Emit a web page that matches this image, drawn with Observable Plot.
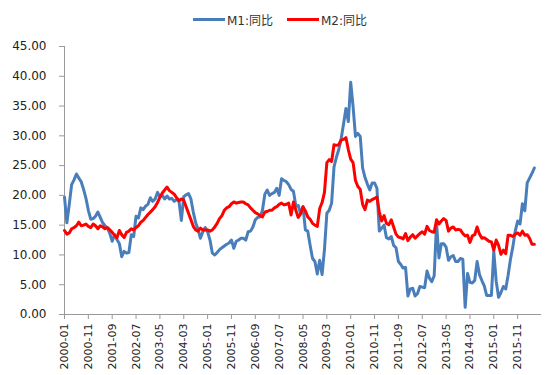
<!DOCTYPE html>
<html>
<head>
<meta charset="utf-8">
<script src="https://cdn.jsdelivr.net/npm/d3@7"></script>
<script src="https://cdn.jsdelivr.net/npm/@observablehq/plot@0.6"></script>
<style>
  html, body { margin: 0; padding: 0; background: #fff; }
  #wrap { width: 554px; height: 375px; overflow: hidden; font-family: "DejaVu Sans", "Noto Sans CJK SC", sans-serif; }
  #legend { height: 35px; display: flex; justify-content: center; align-items: center; gap: 14px; font-size: 12px; color: #333; padding-left: 6px; box-sizing: border-box; padding-top: 4px; }
  .item { display: flex; align-items: center; gap: 2px; }
  .sw { display: inline-block; width: 32px; height: 3px; }
</style>
</head>
<body>
<div id="wrap">
  <div id="legend"></div>
  <div id="chart"></div>
</div>
<script>
const seriesNames = ["M1:同比", "M2:同比"];
const seriesColors = ["#4a7ebb", "#ff0000"];

const startYear = 2000;
const monthCount = 198; // 2000-01 .. 2016-06

const tickLabels = ["2000-01","2000-11","2001-09","2002-07","2003-05","2004-03","2005-01","2005-11","2006-09","2007-07",
  "2008-05","2009-03","2010-01","2010-11","2011-09","2012-07","2013-05","2014-03","2015-01","2015-11"];

const yTicks = [0, 5, 10, 15, 20, 25, 30, 35, 40, 45];

const m1 = [
  19.7, 15.4, 18.5, 21.8, 22.6, 23.6, 22.9, 22.3, 21.0, 19.5, 17.5, 16.0,
  16.1, 16.5, 17.2, 16.3, 15.4, 14.9, 14.5, 13.6, 12.3, 13.4, 12.6, 11.9,
  9.7, 10.6, 10.3, 10.4, 13.4, 13.1, 16.5, 16.2, 17.9, 17.6, 18.2, 18.5,
  19.6, 19.0, 19.4, 20.5, 19.8, 20.0, 19.4, 19.9, 19.4, 19.5, 19.0, 19.3,
  19.0, 15.8, 19.8, 20.1, 20.3, 19.4, 17.2, 15.4, 14.3, 12.8, 13.9, 14.6,
  13.9, 12.5, 10.3, 10.0, 10.4, 10.9, 11.2, 11.5, 11.8, 12.0, 12.5, 11.1,
  12.3, 12.5, 12.8, 12.8, 12.5, 13.9, 14.0, 14.7, 15.9, 16.3, 16.4, 17.5,
  20.2, 20.9, 20.0, 20.3, 20.5, 21.2, 20.0, 22.8, 22.5, 22.3, 21.8, 21.0,
  20.7, 18.2, 18.3, 16.9, 18.1, 14.2, 14.0, 11.6, 9.4, 8.9, 6.8, 9.1,
  6.7, 10.9, 17.0, 17.5, 18.7, 24.8, 26.4, 27.7, 29.5, 32.0, 34.6, 32.4,
  39.0, 34.9, 29.9, 30.4, 29.9, 24.6, 23.0, 21.9, 20.9, 22.1, 22.1, 21.2,
  14.0, 14.5, 15.0, 12.9, 12.7, 13.1, 11.6, 11.2, 8.9, 8.4, 7.8, 7.9,
  3.1, 4.3, 4.4, 3.1, 3.5, 4.7, 4.6, 4.5, 7.3, 6.1, 5.5, 6.5,
  15.3, 9.5, 11.9, 11.9, 11.3, 9.1, 9.7, 9.9, 8.9, 8.9, 9.4, 9.3,
  1.2, 6.9, 5.4, 5.3, 5.7, 8.9, 6.7, 5.7, 4.8, 3.2, 3.2, 3.2,
  10.6, 5.6, 2.9, 3.7, 4.7, 4.3, 6.6, 9.3, 11.4, 14.0, 15.7, 15.2,
  18.6, 17.4, 22.1, 22.9, 23.7, 24.6
];

const m2 = [
  14.1, 13.5, 13.7, 14.4, 14.6, 14.9, 15.5, 14.9, 15.0, 15.2, 14.8, 14.6,
  15.2, 14.9, 14.4, 14.9, 14.7, 14.4, 14.6, 14.2, 13.8, 13.3, 12.9, 14.1,
  13.4, 12.9, 13.8, 14.0, 14.4, 14.2, 14.6, 14.9, 15.5, 15.8, 16.3, 16.8,
  17.2, 17.6, 18.1, 18.8, 19.7, 20.4, 20.9, 21.4, 20.8, 20.5, 20.2, 19.6,
  19.1, 19.4, 19.2, 18.1, 17.0, 15.9, 14.8, 14.2, 14.0, 14.5, 14.2, 14.2,
  14.2, 14.0, 14.2, 14.7, 15.3, 16.1, 16.6, 17.5, 17.9, 18.1, 18.6, 18.9,
  18.7, 18.8, 18.9, 18.9, 18.6, 18.4, 17.9, 17.5, 17.1, 16.9, 16.6, 16.4,
  17.2, 17.3, 17.5, 17.5, 17.9, 18.1, 18.5, 18.7, 18.4, 18.5, 18.7, 16.7,
  18.9, 17.5, 16.3, 16.9, 18.1, 17.4, 16.4, 16.0, 15.3, 15.0, 14.8, 17.8,
  18.8, 20.5, 25.5, 26.0, 25.7, 28.5, 28.4, 28.5, 29.3, 29.4, 29.7, 27.7,
  26.1, 25.5, 22.5, 21.5, 21.0, 18.5, 17.6, 19.2, 19.0, 19.3, 19.5, 19.7,
  17.2, 15.7, 16.6, 15.3, 15.1, 15.9, 14.7, 13.5, 13.0, 12.9, 12.7, 13.6,
  12.4, 13.0, 13.4, 12.8, 13.2, 13.6, 13.9, 13.5, 14.8, 14.1, 13.9, 13.8,
  15.9, 15.2, 15.7, 16.1, 15.8, 14.0, 14.5, 14.7, 14.2, 14.3, 14.2, 13.6,
  13.2, 13.3, 12.1, 13.2, 13.4, 14.7, 13.5, 12.8, 12.9, 12.6, 12.3, 12.2,
  10.8, 12.5, 11.6, 10.1, 10.8, 10.2, 13.3, 13.3, 13.1, 13.5, 13.7, 13.3,
  14.0, 13.3, 13.4, 12.8, 11.8, 11.8
];

// month categories
const months = [];
for (let k = 0; k < monthCount; k++) {
  const y = startYear + Math.floor(k / 12);
  const mo = (k % 12) + 1;
  months.push(y + "-" + String(mo).padStart(2, "0"));
}
const tickIdx = tickLabels.map(l => months.indexOf(l));

const rows1 = months.map((m, i) => ({ i, month: m, v: m1[i] }));
const rows2 = months.map((m, i) => ({ i, month: m, v: m2[i] }));

// legend
const legend = document.getElementById("legend");
seriesNames.forEach((n, k) => {
  const it = document.createElement("span");
  it.className = "item";
  const sw = document.createElement("span");
  sw.className = "sw";
  sw.style.background = seriesColors[k];
  const tx = document.createElement("span");
  tx.textContent = n;
  it.appendChild(sw); it.appendChild(tx);
  legend.appendChild(it);
});

const chart = Plot.plot({
  width: 554,
  height: 340,
  marginTop: 11,
  marginBottom: 61,
  marginLeft: 64,
  marginRight: 13,
  style: { fontFamily: "DejaVu Sans, sans-serif", fontSize: "11px", background: "#fff", color: "#222" },
  x: { type: "linear", domain: [0, 200], axis: null },
  y: { domain: [0, 45], axis: null },
  marks: [
    Plot.axisY({ ticks: yTicks, tickFormat: d => d.toFixed(2), tickSize: 5, tickPadding: 13, stroke: "#999", fill: "#222", fontSize: 12, label: null }),
    Plot.axisX({ ticks: tickIdx, tickFormat: i => months[i], tickRotate: -90, tickSize: 5, tickPadding: 4, stroke: "#999", fill: "#222", fontSize: 11, label: null }),
    Plot.ruleX([0], { stroke: "#999" }),
    Plot.ruleY([0], { stroke: "#999" }),
    Plot.line(rows1, { x: "i", y: "v", stroke: seriesColors[0], strokeWidth: 3, strokeLinejoin: "round" }),
    Plot.line(rows2, { x: "i", y: "v", stroke: seriesColors[1], strokeWidth: 3, strokeLinejoin: "round" })
  ]
});
document.getElementById("chart").appendChild(chart);
</script>
</body>
</html>
